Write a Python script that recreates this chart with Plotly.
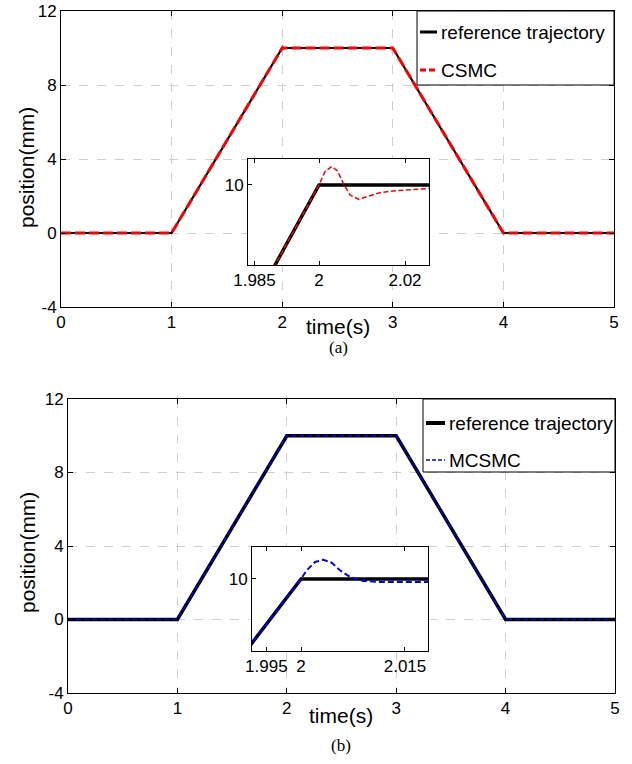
import plotly.graph_objects as go

W, H = 632, 764

# ---------------- data ----------------
t_ref = [0, 1, 2, 3, 4, 5]
p_ref = [0, 0, 10, 10, 0, 0]

t_csmc = [0, 1, 2.0, 2.0014, 2.00295, 2.00426, 2.00566, 2.00721, 2.00915, 2.01109,
          2.01419, 2.01806, 2.02194, 2.02558, 2.03, 2.1, 3, 4, 5]
p_csmc = [0, 0, 10.0, 10.0171, 10.0234, 10.0183, 10.0021, 9.9872, 9.9817, 9.9851,
          9.9902, 9.9928, 9.9940, 9.9953, 9.997, 10.0, 10, 0, 0]

t_mcsmc = [0, 1, 2.0, 2.00082, 2.00202, 2.00322, 2.00442, 2.00563, 2.00707, 2.00899,
           2.01139, 2.01428, 2.01837, 2.03, 2.1, 3, 4, 5]
p_mcsmc = [0, 0, 10.0, 10.0095, 10.0187, 10.0212, 10.0179, 10.0095, 10.0022, 9.9978,
           9.9967, 9.9960, 9.9945, 9.996, 10.0, 10, 0, 0]

x_ticks = [0, 1, 2, 3, 4, 5]
y_ticks = [-4, 0, 4, 8, 12]
y_tick_labels = ["-4", "0", "4", "8", "12"]
inset_a_ticks = [1.985, 2, 2.02]
inset_a_labels = ["1.985", "2", "2.02"]
inset_b_ticks = [1.995, 2, 2.015]
inset_b_labels = ["1.995", "2", "2.015"]

FONT = "Liberation Sans, Arial, Helvetica, sans-serif"
SERIF = "Liberation Serif, Times New Roman, serif"


def px_x(a, b):
    return [a / W, b / W]


def px_y(top, bottom):
    return [1 - bottom / H, 1 - top / H]


def X(p):
    return p / W


def Y(p):
    return 1 - p / H


fig = go.Figure()

# top main
fig.add_trace(go.Scatter(x=t_ref, y=p_ref, mode="lines", name="reference trajectory",
                         line=dict(color="black", width=2.2), xaxis="x", yaxis="y"))
fig.add_trace(go.Scatter(x=t_csmc, y=p_csmc, mode="lines", name="CSMC",
                         line=dict(color="red", width=3, dash="10px,4px"), xaxis="x", yaxis="y"))
# bottom main
fig.add_trace(go.Scatter(x=t_ref, y=p_ref, mode="lines", name="reference trajectory",
                         line=dict(color="black", width=3.5), xaxis="x2", yaxis="y2"))
fig.add_trace(go.Scatter(x=t_mcsmc, y=p_mcsmc, mode="lines", name="MCSMC",
                         line=dict(color="blue", width=1.5, dash="5px,3px"), xaxis="x2", yaxis="y2"))
# insets
fig.add_trace(go.Scatter(x=t_ref, y=p_ref, mode="lines",
                         line=dict(color="black", width=3.5), xaxis="x3", yaxis="y3"))
fig.add_trace(go.Scatter(x=t_csmc, y=p_csmc, mode="lines",
                         line=dict(color="red", width=1.5, dash="5px,2.5px"), xaxis="x3", yaxis="y3"))
fig.add_trace(go.Scatter(x=t_ref, y=p_ref, mode="lines",
                         line=dict(color="black", width=3.5), xaxis="x4", yaxis="y4"))
fig.add_trace(go.Scatter(x=t_mcsmc, y=p_mcsmc, mode="lines",
                         line=dict(color="blue", width=2, dash="6px,3px"), xaxis="x4", yaxis="y4"))

main_axis = dict(showline=True, mirror="ticks", linecolor="black", linewidth=1,
                 ticks="inside", ticklen=5, tickcolor="black", zeroline=False,
                 showgrid=True, gridcolor="#cfcfcf", griddash="dash", gridwidth=1,
                 tickfont=dict(family=FONT, size=17, color="black"))
inset_axis = dict(showline=True, mirror="ticks", linecolor="black", linewidth=1,
                  ticks="inside", ticklen=4, tickcolor="black", zeroline=False,
                  showgrid=False, tickfont=dict(family=FONT, size=17, color="black"))

fig.update_layout(
    width=W, height=H, autosize=False, showlegend=False,
    margin=dict(l=0, r=0, t=0, b=0, pad=0, autoexpand=False),
    paper_bgcolor="white", plot_bgcolor="white",
    xaxis=dict(main_axis, domain=px_x(61, 614), range=[0, 5], tickvals=x_ticks, anchor="y"),
    yaxis=dict(main_axis, domain=px_y(11, 307), range=[-4, 12], tickvals=y_ticks,
               ticktext=y_tick_labels, anchor="x"),
    xaxis2=dict(main_axis, domain=px_x(68, 615), range=[0, 5], tickvals=x_ticks, anchor="y2"),
    yaxis2=dict(main_axis, domain=px_y(399, 693), range=[-4, 12], tickvals=y_ticks,
                ticktext=y_tick_labels, anchor="x2"),
    xaxis3=dict(inset_axis, domain=px_x(248, 429), range=[1.98349, 2.02558],
                tickvals=inset_a_ticks, ticktext=inset_a_labels, anchor="y3"),
    yaxis3=dict(inset_axis, domain=px_y(159, 265), range=[9.8977, 10.0332],
                tickvals=[10], ticktext=["10"], anchor="x3"),
    xaxis4=dict(inset_axis, domain=px_x(252, 428), range=[1.99293, 2.01832],
                tickvals=inset_b_ticks, ticktext=inset_b_labels, anchor="y4"),
    yaxis4=dict(inset_axis, domain=px_y(547, 651), range=[9.9205, 10.0352],
                tickvals=[10], ticktext=["10"], anchor="x4"),
)

# ---- legends drawn as boxed keys in the top-right corners ----
legends = [
    dict(box=(417, 11, 614, 85), rows=[32, 70], x0=420, x1=437, tx=439,
         labels=["reference trajectory", "CSMC"],
         styles=[dict(color="black", width=3), dict(color="red", width=3, dash="6px,3px")]),
    dict(box=(423, 399, 615, 472), rows=[423, 460], x0=426, x1=445, tx=447,
         labels=["reference trajectory", "MCSMC"],
         styles=[dict(color="black", width=4), dict(color="blue", width=1.5, dash="4px,2px")]),
]
for lg in legends:
    bx0, by0, bx1, by1 = lg["box"]
    fig.add_shape(type="rect", xref="paper", yref="paper", x0=X(bx0), x1=X(bx1),
                  y0=Y(by1), y1=Y(by0), line=dict(color="black", width=1),
                  fillcolor="white", layer="above")
    for ry, lab, st in zip(lg["rows"], lg["labels"], lg["styles"]):
        fig.add_shape(type="line", xref="paper", yref="paper", x0=X(lg["x0"]), x1=X(lg["x1"]),
                      y0=Y(ry), y1=Y(ry), line=st, layer="above")
        fig.add_annotation(text=lab, x=X(lg["tx"]), y=Y(ry), xref="paper", yref="paper",
                           showarrow=False, xanchor="left", yanchor="middle",
                           font=dict(family=FONT, size=19, color="black"))

annots = [
    dict(text="time(s)", x=338, y=326, size=21, family=FONT, angle=0),
    dict(text="time(s)", x=341, y=715, size=21, family=FONT, angle=0),
    dict(text="position(mm)", x=26, y=168, size=21, family=FONT, angle=-90),
    dict(text="position(mm)", x=27, y=553, size=21, family=FONT, angle=-90),
    dict(text="(a)", x=338, y=347, size=17, family=SERIF, angle=0),
    dict(text="(b)", x=341, y=745, size=17, family=SERIF, angle=0),
]
for a in annots:
    fig.add_annotation(text=a["text"], x=X(a["x"]), y=Y(a["y"]), xref="paper", yref="paper",
                       showarrow=False, xanchor="center", yanchor="middle", textangle=a["angle"],
                       font=dict(family=a["family"], size=a["size"], color="black"))

fig.write_html("out.html", post_script="document.body.style.margin='0';")
